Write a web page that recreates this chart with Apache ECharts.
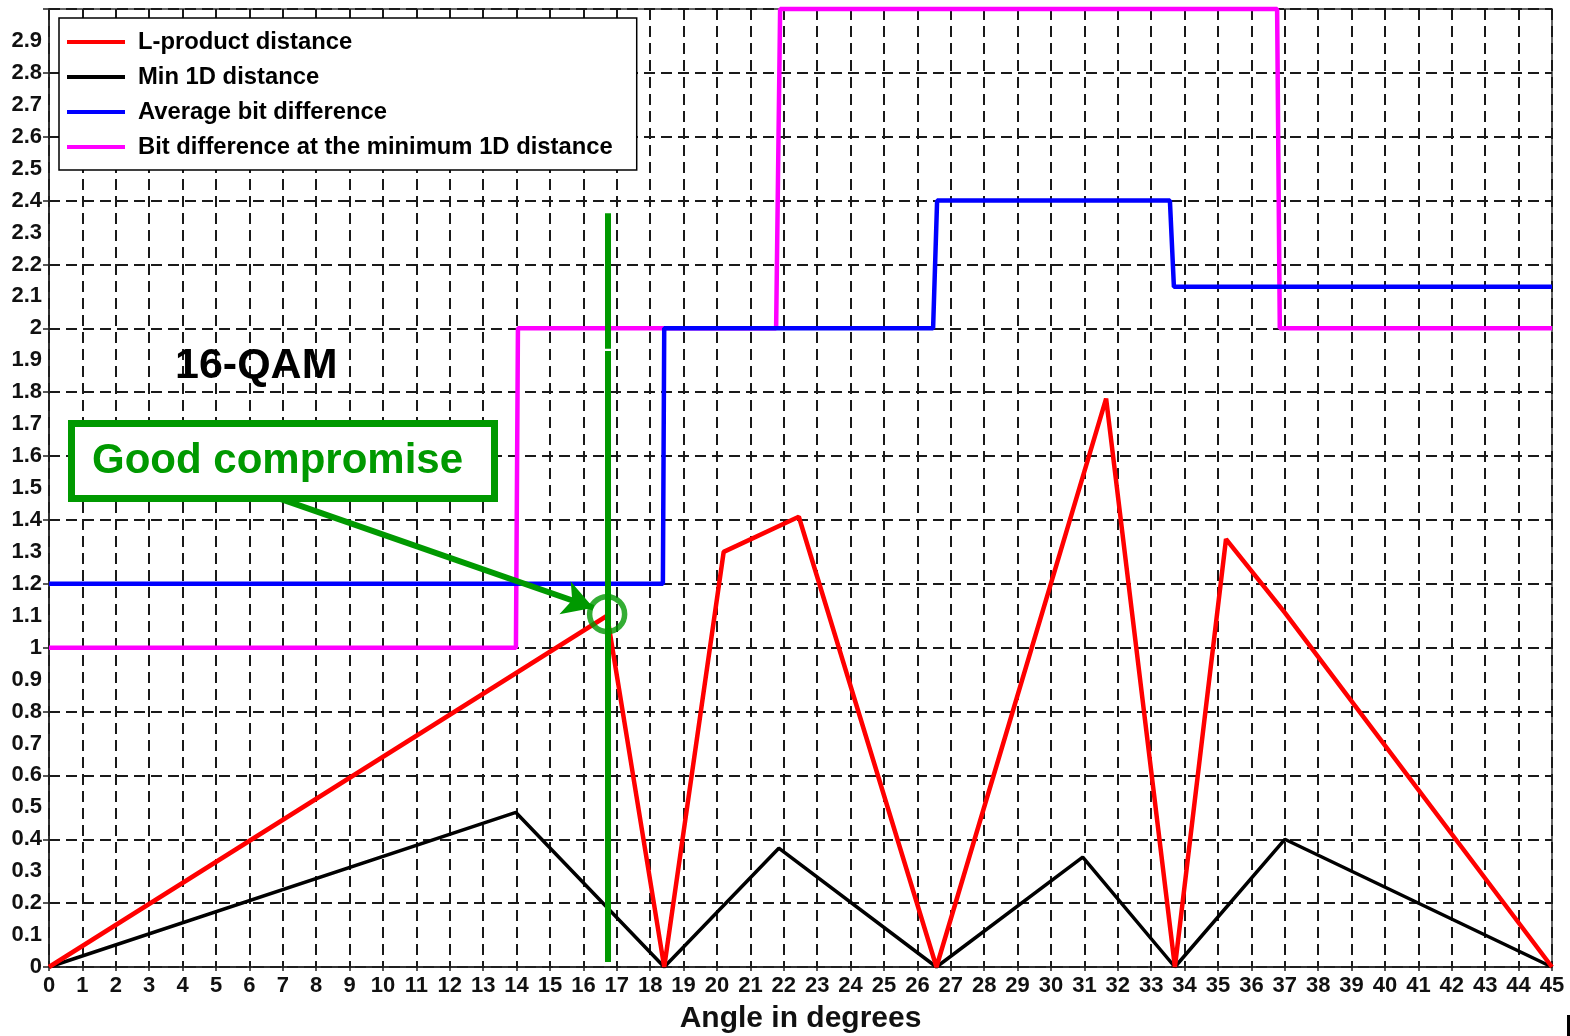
<!DOCTYPE html>
<html><head><meta charset="utf-8">
<script src="https://cdn.jsdelivr.net/npm/echarts@6/dist/echarts.min.js"></script>
<style>html,body{margin:0;padding:0;background:#fff}#c{width:1570px;height:1036px}</style>
</head><body><div id="c"></div>
<script>
// ---- data ----
const seriesNames = ['L-product distance', 'Min 1D distance', 'Average bit difference', 'Bit difference at the minimum 1D distance'];
const seriesColors = ['#ff0000', '#000000', '#0000ff', '#ff00ff'];

const lProductAngles = [0, 16.71, 18.42, 20.2, 22.45, 26.57, 31.65, 33.71, 35.24, 37.0, 45];
const lProductValues = [0, 1.10, 0, 1.30, 1.41, 0, 1.78, 0, 1.34, 1.11, 0];

const min1dAngles = [0, 13.98, 18.42, 21.85, 26.57, 30.95, 33.71, 37.0, 45];
const min1dValues = [0, 0.484, 0, 0.372, 0, 0.344, 0, 0.40, 0];

const avgBitAngles = [0, 18.38, 18.42, 26.47, 26.59, 33.56, 33.68, 45];
const avgBitValues = [1.2, 1.2, 2.0, 2.0, 2.4, 2.4, 2.13, 2.13];

const bitMinAngles = [0, 13.98, 14.04, 21.77, 21.89, 36.77, 36.85, 45];
const bitMinValues = [1, 1, 2, 2, 3, 3, 2, 2];

// annotation anchors (data units)
const markerAngle = 16.74;
const markerSegments = [[2.36, 1.936], [1.929, 0.016]];
const arrowFrom = [6.95, 1.465];
const arrowTo = [16.3, 1.125];
const circlePoint = [16.71, 1.105];

const xAxisName = 'Angle in degrees';
const boxLabel = 'Good compromise';
const schemeLabel = '16-QAM';

const zip = (a, b) => a.map((v, i) => [v, b[i]]);
const FONT = '"Liberation Sans", Arial, sans-serif';
const GREEN = '#009900';
const gridDash = {color: '#1a1a1a', width: 2, type: [11, 6]};

const chart = echarts.init(document.getElementById('c'), null, {renderer: 'canvas'});

const lineSeries = [
  {name: seriesNames[3], data: zip(bitMinAngles, bitMinValues), w: 4.5, clip: false},
  {name: seriesNames[2], data: zip(avgBitAngles, avgBitValues), w: 4.5},
  {name: seriesNames[1], data: zip(min1dAngles, min1dValues), w: 3.5},
  {name: seriesNames[0], data: zip(lProductAngles, lProductValues), w: 4.5}
].map(s => {
  const c = seriesColors[seriesNames.indexOf(s.name)];
  return {
    type: 'line', name: s.name, data: s.data, yAxisIndex: 0,
    showSymbol: false, symbol: 'none', color: c, clip: s.clip !== false,
    lineStyle: {color: c, width: s.w}, itemStyle: {color: c},
    silent: true, z: 3
  };
});

const annotation = {
  type: 'line', name: '_annot', data: [], yAxisIndex: 0, silent: true, z: 6,
  markLine: {
    silent: true, animation: false, symbol: ['none', 'none'], label: {show: false},
    lineStyle: {color: GREEN, width: 6, type: 'solid'},
    data: markerSegments.map(s => [{coord: [markerAngle, s[0]]}, {coord: [markerAngle, s[1]]}]).concat([
      [{coord: arrowFrom, symbol: 'none', lineStyle: {color: GREEN, width: 6, type: 'solid'}},
       {coord: arrowTo, symbol: 'arrow', symbolSize: [26, 30]}]
    ])
  }
};

const circle = {
  type: 'scatter', name: '_circle', data: [circlePoint], yAxisIndex: 0, silent: true, z: 7,
  symbol: 'circle', symbolSize: 35,
  itemStyle: {color: 'rgba(0,0,0,0)', borderColor: GREEN, borderWidth: 5.5}
};

chart.setOption({
  animation: false,
  backgroundColor: '#fff',
  grid: {left: 49, right: 18, top: 9, bottom: 69, outerBoundsMode: 'none', containLabel: false,
    show: true, borderColor: '#333', borderWidth: 1.5, backgroundColor: '#fff'},
  xAxis: {
    type: 'value', min: 0, max: 45, interval: 1,
    name: xAxisName, nameLocation: 'middle', nameGap: 37,
    nameTextStyle: {fontFamily: FONT, fontWeight: 'bold', fontSize: 30, color: '#111'},
    axisLine: {show: true, lineStyle: {color: '#222', width: 1.5}},
    axisTick: {show: true, length: 4, lineStyle: {color: '#222', width: 1.5}},
    axisLabel: {fontFamily: FONT, fontWeight: 'bold', fontSize: 22, color: '#111', margin: 8, formatter: v => String(v)},
    splitLine: {show: true, lineStyle: gridDash}
  },
  yAxis: [
    {
      type: 'value', min: 0, max: 3, interval: 0.1, position: 'left',
      axisLine: {show: true, lineStyle: {color: '#222', width: 1.5}},
      axisTick: {show: false}, splitLine: {show: false},
      axisLabel: {fontFamily: FONT, fontWeight: 'bold', fontSize: 22, color: '#111', margin: 7,
        formatter: v => (v >= 2.999 ? '' : String(+v.toFixed(1)))}
    },
    {
      type: 'value', min: 0, max: 3, interval: 0.2, position: 'left',
      axisLine: {show: false},
      axisTick: {show: true, length: 6, lineStyle: {color: '#222', width: 1.5}},
      axisLabel: {show: false},
      splitLine: {show: true, lineStyle: gridDash}
    }
  ],
  legend: {
    data: seriesNames, orient: 'vertical', left: 59, top: 18,
    padding: [12, 24, 11, 8], itemWidth: 58, itemHeight: 4, itemGap: 11, icon: 'rect',
    backgroundColor: '#fff', borderColor: '#000', borderWidth: 1.5, borderRadius: 0,
    selectedMode: false, z: 10,
    textStyle: {fontFamily: FONT, fontWeight: 'bold', fontSize: 23.8, lineHeight: 24, color: '#000', padding: [0, 0, 0, 8]}
  },
  series: lineSeries.concat([annotation, circle]),
  graphic: [
    {type: 'text', left: 175, top: 345, z: 20, silent: true,
      style: {text: schemeLabel, font: 'bold 43px ' + FONT, fill: '#000'}},
    {type: 'rect', z: 20, silent: true,
      shape: {x: 71.5, y: 423.5, width: 423, height: 75},
      style: {fill: '#fff', stroke: GREEN, lineWidth: 7}},
    {type: 'text', left: 92, top: 440, z: 21, silent: true,
      style: {text: boxLabel, font: 'bold 42px ' + FONT, fill: GREEN}},
    {type: 'rect', z: 20, silent: true, shape: {x: 1567, y: 1015, width: 3, height: 21}, style: {fill: '#000'}}
  ]
});
</script></body></html>
